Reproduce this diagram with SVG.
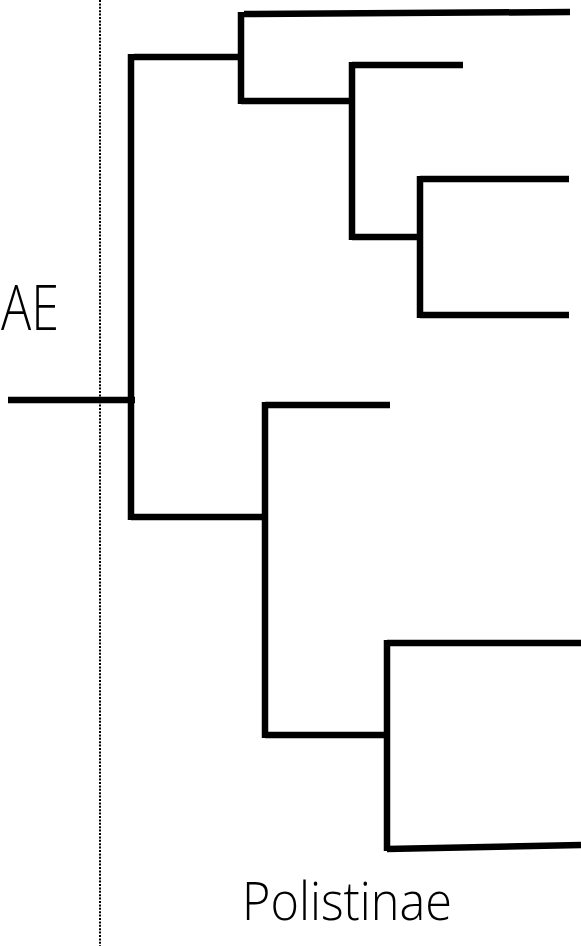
<svg xmlns="http://www.w3.org/2000/svg" width="581" height="946" viewBox="0 0 581 946">
<style>
.br{fill:none;stroke:#000;stroke-width:6.5;stroke-linecap:butt;stroke-linejoin:miter}
.lbl{font-family:"Open Sans","Noto Sans","DejaVu Sans",sans-serif;font-weight:300;fill:#000}
.dot{stroke:#000;stroke-width:2;stroke-dasharray:2 1.4}
</style>
<rect width="581" height="946" fill="#fff"/>
<line class="dot" x1="100" y1="0" x2="100" y2="946"/>
<g id="connectors">
<path class="br" d="M8,400 H135"/>
<path class="br" d="M134,57 H241 M131,54 V520 M131,517 H265"/>
<path class="br" d="M244,14 L570,12 M241,12 V104 M241,101 H352"/>
<path class="br" d="M352,65 H463 M352,62 V240 M352,237 H420"/>
<path class="br" d="M420,179 H569 M420,176 V318 M420,315 H569"/>
<path class="br" d="M265,405 H390 M265,402 V738 M265,735 H387"/>
<path class="br" d="M387,643 H581 M387,640 V851 M387,849 L581,845"/>
</g>
<g id="label-ae"><text class="lbl" x="1" y="330" font-size="62" textLength="58" lengthAdjust="spacingAndGlyphs">AE</text></g>
<g id="label-polistinae"><text class="lbl" x="242" y="920" font-size="53" textLength="210" lengthAdjust="spacingAndGlyphs">Polistinae</text></g>
</svg>
